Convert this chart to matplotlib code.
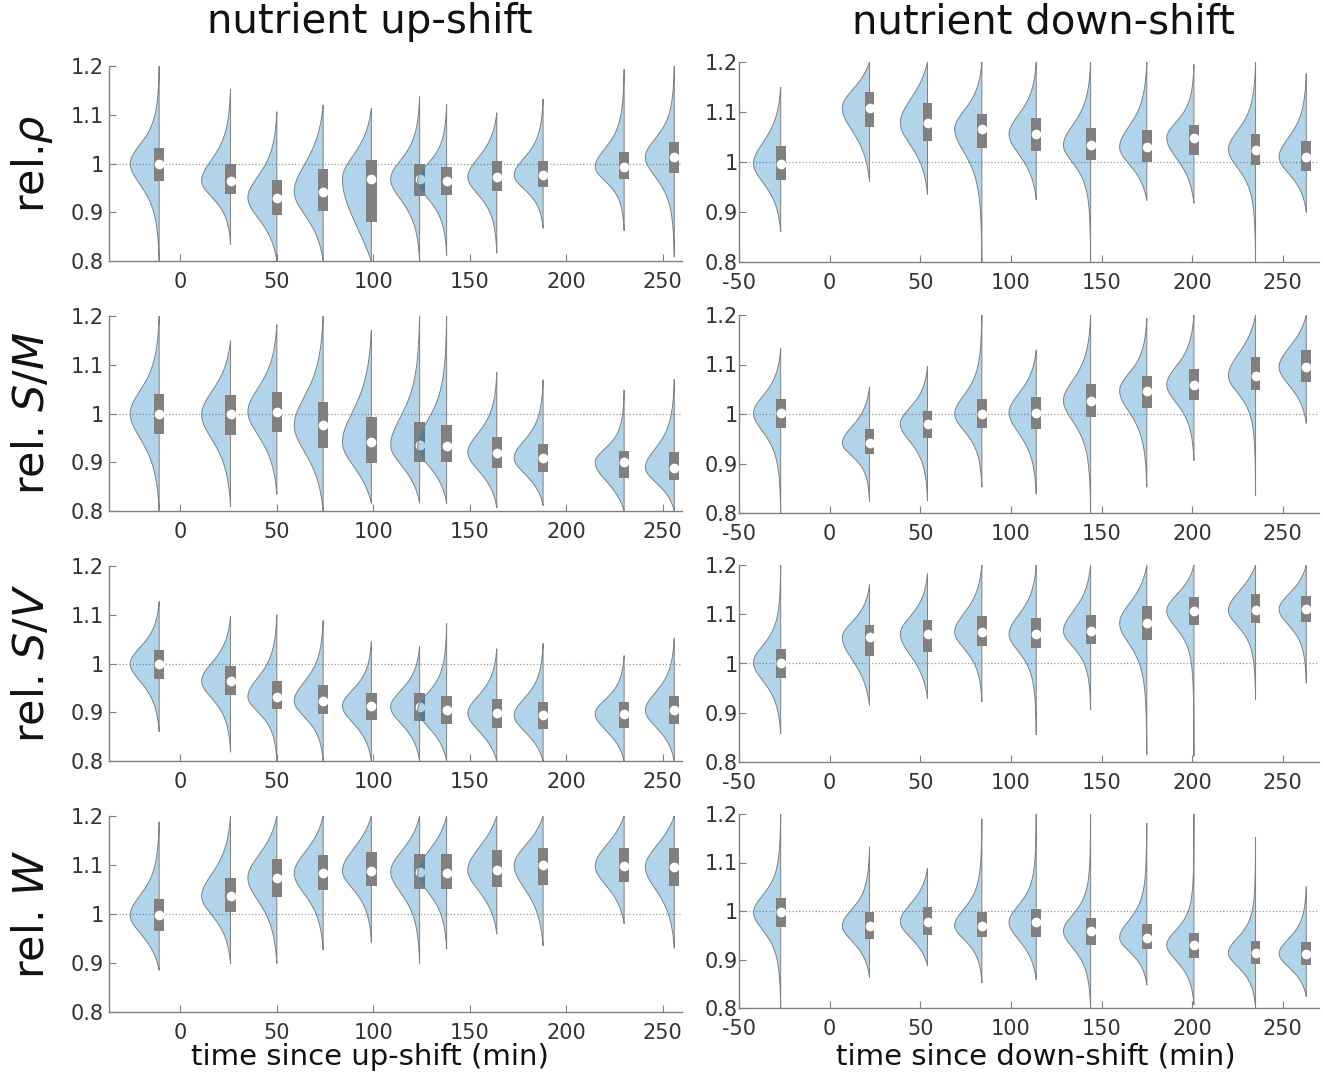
import matplotlib
matplotlib.use('Agg')
import matplotlib.pyplot as plt
from matplotlib.patches import Rectangle
import numpy as np

plt.rcParams['font.family'] = ['DejaVu Sans']
plt.rcParams['mathtext.fontset'] = 'dejavusans'
plt.rcParams['axes.unicode_minus'] = False

# time points (min) of the single-cell snapshots
up_times = [-11, 26, 50, 74, 99, 124, 138, 164, 188, 230, 256]
down_times = [-27, 22, 54, 84, 114, 144, 175, 201, 235, 263]

# rel. rho, up-shift
rho_up_lo = [0.80, 0.835, 0.80, 0.80, 0.80, 0.80, 0.812, 0.817, 0.868, 0.863, 0.809]
rho_up_hi = [1.20, 1.152, 1.106, 1.12, 1.113, 1.137, 1.121, 1.104, 1.132, 1.193, 1.20]
rho_up_q1 = [0.964, 0.937, 0.894, 0.902, 0.881, 0.933, 0.935, 0.943, 0.952, 0.969, 0.980]
rho_up_med = [1.000, 0.964, 0.930, 0.942, 0.969, 0.968, 0.965, 0.972, 0.976, 0.993, 1.013]
rho_up_q3 = [1.032, 1.000, 0.966, 0.989, 1.008, 1.000, 0.993, 1.005, 1.005, 1.024, 1.044]

# rel. rho, down-shift
rho_dn_lo = [0.861, 0.962, 0.936, 0.80, 0.925, 0.80, 0.924, 0.918, 0.80, 0.90]
rho_dn_hi = [1.149, 1.20, 1.20, 1.20, 1.20, 1.20, 1.20, 1.195, 1.20, 1.177]
rho_dn_q1 = [0.965, 1.070, 1.042, 1.028, 1.022, 1.005, 1.000, 1.014, 0.995, 0.982]
rho_dn_med = [0.997, 1.108, 1.078, 1.066, 1.056, 1.034, 1.030, 1.048, 1.025, 1.010]
rho_dn_q3 = [1.032, 1.140, 1.119, 1.097, 1.088, 1.067, 1.064, 1.074, 1.056, 1.042]

# rel. S/M, up-shift
sm_up_lo = [0.80, 0.810, 0.835, 0.80, 0.816, 0.817, 0.816, 0.807, 0.812, 0.80, 0.80]
sm_up_hi = [1.20, 1.149, 1.182, 1.20, 1.171, 1.20, 1.20, 1.084, 1.069, 1.048, 1.070]
sm_up_q1 = [0.957, 0.956, 0.963, 0.930, 0.899, 0.900, 0.900, 0.889, 0.881, 0.867, 0.863]
sm_up_med = [1.000, 0.998, 1.004, 0.976, 0.941, 0.935, 0.933, 0.920, 0.909, 0.900, 0.889]
sm_up_q3 = [1.039, 1.038, 1.044, 1.024, 0.993, 0.983, 0.976, 0.952, 0.938, 0.923, 0.921]

# rel. S/M, down-shift
sm_dn_lo = [0.80, 0.824, 0.826, 0.853, 0.839, 0.80, 0.853, 0.907, 0.836, 0.982]
sm_dn_hi = [1.132, 1.054, 1.096, 1.20, 1.129, 1.20, 1.193, 1.20, 1.20, 1.20]
sm_dn_q1 = [0.971, 0.920, 0.951, 0.972, 0.969, 0.993, 1.012, 1.029, 1.049, 1.064]
sm_dn_med = [1.002, 0.941, 0.980, 1.000, 1.003, 1.027, 1.047, 1.059, 1.077, 1.095]
sm_dn_q3 = [1.031, 0.969, 1.007, 1.031, 1.035, 1.061, 1.076, 1.090, 1.115, 1.129]

# rel. S/V, up-shift
sv_up_lo = [0.861, 0.819, 0.80, 0.80, 0.80, 0.80, 0.80, 0.80, 0.80, 0.80, 0.80]
sv_up_hi = [1.127, 1.097, 1.10, 1.088, 1.045, 1.035, 1.082, 1.030, 1.041, 1.016, 1.052]
sv_up_q1 = [0.969, 0.935, 0.906, 0.896, 0.884, 0.882, 0.875, 0.867, 0.865, 0.868, 0.875]
sv_up_med = [1.000, 0.964, 0.932, 0.923, 0.913, 0.911, 0.905, 0.898, 0.894, 0.897, 0.904]
sv_up_q3 = [1.028, 0.995, 0.964, 0.955, 0.940, 0.939, 0.933, 0.927, 0.922, 0.921, 0.934]

# rel. S/V, down-shift
sv_dn_lo = [0.858, 0.916, 0.929, 0.923, 0.856, 0.907, 0.816, 0.812, 0.927, 0.961]
sv_dn_hi = [1.20, 1.160, 1.182, 1.20, 1.20, 1.20, 1.20, 1.20, 1.20, 1.20]
sv_dn_q1 = [0.971, 1.015, 1.024, 1.036, 1.031, 1.040, 1.048, 1.079, 1.082, 1.084]
sv_dn_med = [1.002, 1.053, 1.060, 1.064, 1.060, 1.066, 1.082, 1.107, 1.108, 1.110]
sv_dn_q3 = [1.030, 1.079, 1.089, 1.096, 1.092, 1.099, 1.116, 1.135, 1.141, 1.137]

# rel. W, up-shift
w_up_lo = [0.886, 0.899, 0.900, 0.927, 0.942, 0.900, 0.929, 0.960, 0.936, 0.981, 0.931]
w_up_hi = [1.188, 1.20, 1.20, 1.20, 1.20, 1.20, 1.20, 1.20, 1.20, 1.20, 1.20]
w_up_q1 = [0.965, 1.004, 1.035, 1.048, 1.058, 1.051, 1.052, 1.055, 1.060, 1.065, 1.058]
w_up_med = [0.998, 1.036, 1.074, 1.083, 1.088, 1.086, 1.084, 1.090, 1.099, 1.098, 1.096]
w_up_q3 = [1.031, 1.074, 1.113, 1.120, 1.127, 1.122, 1.122, 1.130, 1.134, 1.135, 1.134]

# rel. W, down-shift
w_dn_lo = [0.80, 0.864, 0.888, 0.853, 0.859, 0.80, 0.848, 0.807, 0.80, 0.824]
w_dn_hi = [1.20, 1.132, 1.088, 1.19, 1.20, 1.20, 1.181, 1.20, 1.152, 1.05]
w_dn_q1 = [0.967, 0.943, 0.950, 0.946, 0.946, 0.930, 0.921, 0.903, 0.890, 0.888]
w_dn_med = [0.997, 0.970, 0.978, 0.970, 0.977, 0.959, 0.945, 0.930, 0.914, 0.912]
w_dn_q3 = [1.026, 0.997, 1.008, 0.998, 1.005, 0.986, 0.974, 0.955, 0.939, 0.937]

row_labels = [r'rel.$\rho$', r'rel. $S/M$', r'rel. $S/V$', r'rel. $W$']

VIOLIN_C = (0.0, 0.447, 0.741)
GRAY = (0.5, 0.5, 0.5)


def profile(y, med, s_lo, s_hi):
    z = np.where(y < med, (y - med) / s_lo, (y - med) / s_hi)
    return (1 + z**2 / 3.0) ** -2


def half_violin(ax, x, lo, hi, q1, med, q3, z, width=15.0, box_w=5.4):
    s_lo = max(med - q1, 0.003) / 0.674
    s_hi = max(q3 - med, 0.003) / 0.674
    ys = np.linspace(lo, hi, 300)
    f = profile(ys, med, s_lo, s_hi)
    f_lo = profile(np.array(lo), med, s_lo, s_hi)
    f_hi = profile(np.array(hi), med, s_lo, s_hi)
    # taper to zero at both ends
    f = np.where(ys < med, (f - f_lo) / (1 - f_lo), (f - f_hi) / (1 - f_hi))
    f = np.clip(f, 0, None)
    f = f / f.max()
    xs = np.concatenate([x - width * f, [x, x]])
    yy = np.concatenate([ys, [hi, lo]])
    ax.fill(xs, yy, color=VIOLIN_C, alpha=0.3, lw=0, zorder=z)
    ax.plot(np.append(xs, xs[0]), np.append(yy, yy[0]), color=GRAY, lw=0.7, zorder=z + 0.01)
    ax.add_patch(Rectangle((x - box_w / 2, q1), box_w, q3 - q1, fc=GRAY, ec='none', zorder=z + 0.02))
    ax.plot([x], [med], 'o', ms=6, mfc='white', mec='white', zorder=z + 0.03)


panels = [
    (up_times, rho_up_lo, rho_up_hi, rho_up_q1, rho_up_med, rho_up_q3),
    (down_times, rho_dn_lo, rho_dn_hi, rho_dn_q1, rho_dn_med, rho_dn_q3),
    (up_times, sm_up_lo, sm_up_hi, sm_up_q1, sm_up_med, sm_up_q3),
    (down_times, sm_dn_lo, sm_dn_hi, sm_dn_q1, sm_dn_med, sm_dn_q3),
    (up_times, sv_up_lo, sv_up_hi, sv_up_q1, sv_up_med, sv_up_q3),
    (down_times, sv_dn_lo, sv_dn_hi, sv_dn_q1, sv_dn_med, sv_dn_q3),
    (up_times, w_up_lo, w_up_hi, w_up_q1, w_up_med, w_up_q3),
    (down_times, w_dn_lo, w_dn_hi, w_dn_q1, w_dn_med, w_dn_q3),
]

W, H = 1323, 1078
fig = plt.figure(figsize=(W / 100, H / 100), dpi=100)

# axes boxes in pixels (left, right, top, bottom)
left_rows = [(66, 261), (316, 511), (566, 761), (816, 1012)]
right_rows = [(62, 262), (315, 513), (565, 762), (814, 1008)]
left_x = (109, 682)
right_x = (739, 1319)

for i, (times, lo, hi, q1, med, q3) in enumerate(panels):
    row, col = i // 2, i % 2
    xr = left_x if col == 0 else right_x
    yr = left_rows[row] if col == 0 else right_rows[row]
    ax = fig.add_axes([xr[0] / W, 1 - yr[1] / H, (xr[1] - xr[0]) / W, (yr[1] - yr[0]) / H])

    ax.axhline(1, ls=':', color=(0.6, 0.6, 0.6), lw=0.9, zorder=1)
    for k, t in enumerate(times):
        half_violin(ax, t, lo[k], hi[k], q1[k], med[k], q3[k], z=2 + k * 0.1)

    ax.set_ylim(0.8, 1.2)
    ax.set_yticks([0.8, 0.9, 1.0, 1.1, 1.2])
    ax.set_yticklabels(['0.8', '0.9', '1', '1.1', '1.2'])
    if col == 0:
        ax.set_xlim(-37, 260)
        ax.set_xticks([0, 50, 100, 150, 200, 250])
        ax.tick_params(axis='y', pad=4)
    else:
        ax.set_xlim(-50, 270)
        ax.set_xticks([-50, 0, 50, 100, 150, 200, 250])
        ax.tick_params(axis='y', pad=1)
    for s in ['top', 'right']:
        ax.spines[s].set_visible(False)
    for s in ['left', 'bottom']:
        ax.spines[s].set_color(GRAY)
        ax.spines[s].set_linewidth(1.0)
    ax.tick_params(direction='in', length=5, color=GRAY, labelsize=15, labelcolor='#333333')
    ax.tick_params(axis='x', pad=8)

for row in range(4):
    yc = (left_rows[row][0] + left_rows[row][1]) / 2
    fig.text(32 / W, 1 - yc / H, row_labels[row], rotation=90, fontsize=31,
             ha='center', va='center', color='#111111')

fig.text(370 / W, 1 - 22 / H, 'nutrient up-shift', fontsize=29, ha='center', va='center', color='#111111')
fig.text(1043 / W, 1 - 22 / H, 'nutrient down-shift', fontsize=29, ha='center', va='center', color='#111111')
fig.text(370 / W, 1 - 1057 / H, 'time since up-shift (min)', fontsize=21, ha='center', va='center', color='#111111')
fig.text(1036 / W, 1 - 1057 / H, 'time since down-shift (min)', fontsize=21, ha='center', va='center', color='#111111')

fig.savefig('out.png', dpi=100)
